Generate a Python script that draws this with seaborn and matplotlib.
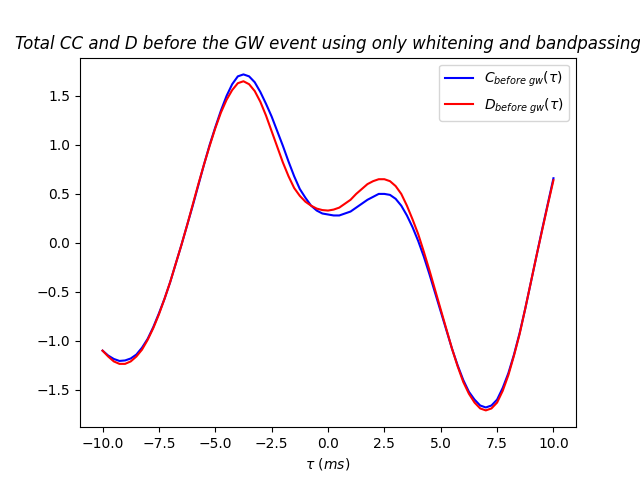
import matplotlib
matplotlib.use("Agg")
import matplotlib.pyplot as plt
import seaborn as sns
import numpy as np

# sample times (ms), quarter-ms steps from -10 to 10
tau = list(np.linspace(-10, 10, 81))

C_before = [-1.10, -1.15, -1.185, -1.205, -1.20, -1.18, -1.14, -1.07, -0.98, -0.86,
            -0.72, -0.57, -0.40, -0.21, -0.02, 0.18, 0.38, 0.59, 0.80, 1.00,
            1.18, 1.35, 1.50, 1.62, 1.70, 1.72, 1.70, 1.64, 1.54, 1.42,
            1.29, 1.14, 0.99, 0.83, 0.68, 0.55, 0.46, 0.38, 0.33, 0.30,
            0.29, 0.28, 0.28, 0.30, 0.32, 0.36, 0.40, 0.44, 0.47, 0.50,
            0.50, 0.49, 0.45, 0.38, 0.28, 0.16, 0.02, -0.14, -0.32, -0.51,
            -0.70, -0.89, -1.08, -1.25, -1.40, -1.52, -1.60, -1.66, -1.68, -1.66,
            -1.60, -1.48, -1.33, -1.14, -0.92, -0.67, -0.40, -0.13, 0.14, 0.40,
            0.66]
D_before = [-1.10, -1.16, -1.21, -1.235, -1.235, -1.21, -1.16, -1.09, -0.99, -0.87,
            -0.73, -0.57, -0.40, -0.21, -0.02, 0.18, 0.39, 0.60, 0.80, 0.99,
            1.17, 1.33, 1.46, 1.56, 1.63, 1.65, 1.62, 1.55, 1.44, 1.30,
            1.14, 0.98, 0.82, 0.68, 0.56, 0.48, 0.42, 0.38, 0.35, 0.335,
            0.33, 0.34, 0.36, 0.40, 0.44, 0.50, 0.55, 0.60, 0.63, 0.65,
            0.65, 0.63, 0.58, 0.50, 0.38, 0.24, 0.09, -0.09, -0.28, -0.48,
            -0.68, -0.88, -1.08, -1.26, -1.42, -1.54, -1.63, -1.69, -1.71, -1.69,
            -1.63, -1.51, -1.35, -1.15, -0.93, -0.67, -0.40, -0.13, 0.13, 0.39,
            0.64]

fig, ax = plt.subplots(figsize=(6.4, 4.8), dpi=100)
sns.lineplot(x=tau, y=C_before, color='b', label=r'$C_{before\ gw}(\tau)$', ax=ax)
sns.lineplot(x=tau, y=D_before, color='r', label=r'$D_{before\ gw}(\tau)$', ax=ax)
ax.set_title('Total CC and D before the GW event using only whitening and bandpassing',
             fontstyle='italic', fontsize=12)
ax.set_xlabel(r'$\tau\ (ms)$')
ax.legend(loc='upper right')
fig.savefig('out.png', dpi=100)
